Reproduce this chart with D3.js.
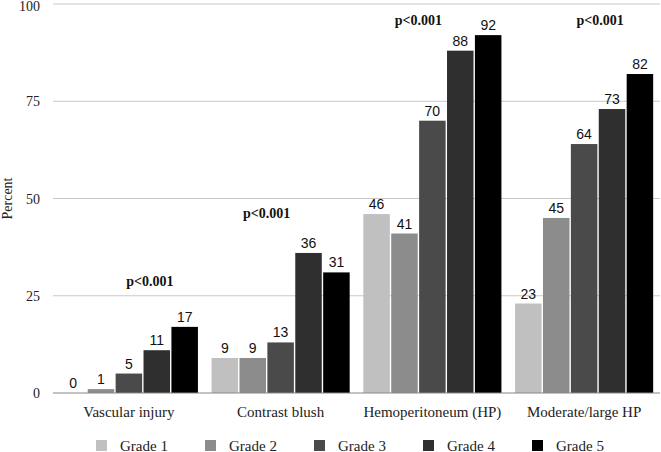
<!DOCTYPE html>
<html>
<head>
<meta charset="utf-8">
<script src="https://cdn.jsdelivr.net/npm/d3@7"></script>
<style>
  html, body { margin: 0; padding: 0; background: #fff; }
</style>
</head>
<body>
<div id="chart"></div>
<script>
(function () {
    // data
    const categories = ["Vascular injury", "Contrast blush", "Hemoperitoneum (HP)", "Moderate/large HP"];
    const grades = ["Grade 1", "Grade 2", "Grade 3", "Grade 4", "Grade 5"];
    const grade1 = [0, 9, 46, 23];
    const grade2 = [1, 9, 41, 45];
    const grade3 = [5, 13, 70, 64];
    const grade4 = [11, 36, 88, 73];
    const grade5 = [17, 31, 92, 82];
    const pValues = ["p<0.001", "p<0.001", "p<0.001", "p<0.001"];
    const yTicks = [0, 25, 50, 75, 100];

    const series = [grade1, grade2, grade3, grade4, grade5];
    const colors = ["#c0c0c0", "#8c8c8c", "#4a4a4a", "#2f2f2f", "#000000"];

    // p label placement (x offset from band centre in px, y in data units)
    const pPlace = [[21, 27.5], [-14, 45], [-14, 94.5], [16, 94.5]];

    const serif = "'Liberation Serif', 'Times New Roman', serif";
    const sans = "'Liberation Sans', Arial, sans-serif";

    const width = 661, height = 452;
    const left = 53, right = 660, top = 4, bottom = 393;

    const svg = d3.select("#chart")
        .append("svg")
        .attr("width", width)
        .attr("height", height);

    const x0 = d3.scaleBand()
        .domain(categories)
        .range([left, right])
        .paddingInner(0.09)
        .paddingOuter(0.045);

    const x1 = d3.scaleBand()
        .domain(grades)
        .range([0, x0.bandwidth()])
        .paddingInner(0.05);

    const y = d3.scaleLinear()
        .domain([0, 100])
        .range([bottom, top]);

    // gridlines
    svg.append("g").selectAll("line")
        .data(yTicks.filter(d => d > 0))
        .enter().append("line")
        .attr("x1", left).attr("x2", right)
        .attr("y1", d => y(d)).attr("y2", d => y(d))
        .attr("stroke", "#c8c8c8").attr("stroke-width", 1);

    // y axis labels
    svg.append("g").selectAll("text")
        .data(yTicks)
        .enter().append("text")
        .attr("x", 40)
        .attr("y", d => Math.max(y(d) + 5, 11))
        .attr("text-anchor", "end")
        .attr("font-family", serif)
        .attr("font-size", 14)
        .attr("fill", "#222")
        .text(d => d);

    svg.append("text")
        .attr("transform", `translate(12,${(top + bottom) / 2}) rotate(-90)`)
        .attr("text-anchor", "middle")
        .attr("font-family", serif)
        .attr("font-size", 14)
        .attr("fill", "#222")
        .text("Percent");

    // bars
    const groups = svg.append("g").selectAll("g")
        .data(categories)
        .enter().append("g")
        .attr("transform", d => `translate(${x0(d)},0)`);

    groups.each(function (cat, ci) {
        const g = d3.select(this);
        const vals = grades.map((gr, gi) => ({ grade: gr, gi: gi, v: series[gi][ci] }));
        g.selectAll("rect").data(vals)
            .enter().append("rect")
            .attr("x", d => x1(d.grade))
            .attr("y", d => y(d.v))
            .attr("width", x1.bandwidth())
            .attr("height", d => bottom - y(d.v))
            .attr("fill", d => colors[d.gi]);
        g.selectAll("text.val").data(vals)
            .enter().append("text")
            .attr("class", "val")
            .attr("x", d => x1(d.grade) + x1.bandwidth() / 2)
            .attr("y", d => y(d.v) - 5)
            .attr("text-anchor", "middle")
            .attr("font-family", sans)
            .attr("font-size", 14)
            .attr("fill", "#111")
            .text(d => d.v);
    });

    // baseline
    svg.append("line")
        .attr("x1", left).attr("x2", right)
        .attr("y1", y(0)).attr("y2", y(0))
        .attr("stroke", "#888").attr("stroke-width", 1.2);

    // category labels
    svg.append("g").selectAll("text")
        .data(categories)
        .enter().append("text")
        .attr("x", d => x0(d) + x0.bandwidth() / 2)
        .attr("y", 417)
        .attr("text-anchor", "middle")
        .attr("font-family", serif)
        .attr("font-size", 15)
        .attr("fill", "#222")
        .text(d => d);

    // p-values
    svg.append("g").selectAll("text")
        .data(categories)
        .enter().append("text")
        .attr("x", (d, i) => x0(d) + x0.bandwidth() / 2 + pPlace[i][0])
        .attr("y", (d, i) => y(pPlace[i][1]))
        .attr("text-anchor", "middle")
        .attr("font-family", serif)
        .attr("font-weight", "bold")
        .attr("font-size", 14)
        .attr("fill", "#111")
        .text((d, i) => pValues[i]);

    // legend
    const legendX = d3.scalePoint()
        .domain(grades)
        .range([96, 532]);

    const leg = svg.append("g").selectAll("g")
        .data(grades)
        .enter().append("g")
        .attr("transform", d => `translate(${legendX(d)},440)`);

    leg.append("rect")
        .attr("width", 11).attr("height", 11)
        .attr("fill", (d, i) => colors[i]);

    leg.append("text")
        .attr("x", 24)
        .attr("y", 10.5)
        .attr("font-family", serif)
        .attr("font-size", 15)
        .attr("fill", "#222")
        .text(d => d);
})();
</script>
</body>
</html>
